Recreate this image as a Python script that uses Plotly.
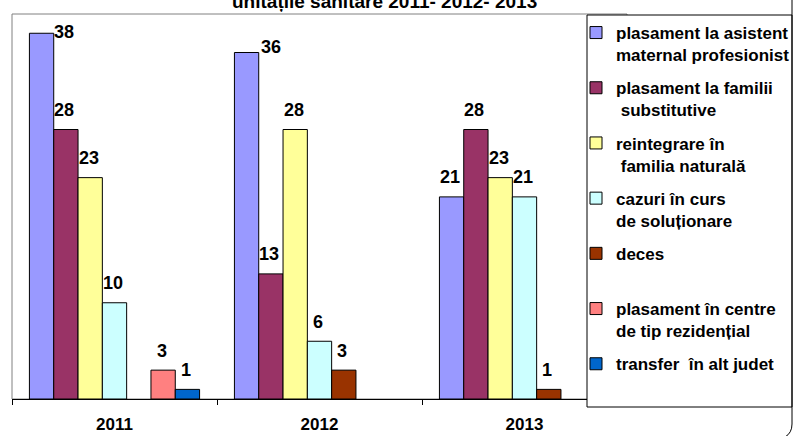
import plotly.graph_objects as go

# ---- data ----
years = ["2011", "2012", "2013"]
asistent = [38, 36, 21]
familii = [28, 13, 28]
reintegrare = [23, 28, 23]
cazuri = [10, 6, 21]
deces = [0, 3, 1]
centre = [3, 0, 0]
transfer = [1, 0, 0]

series_values = [asistent, familii, reintegrare, cazuri, deces, centre, transfer]
series_names = [
    "plasament la asistent<br>maternal profesionist",
    "plasament la familii<br> substitutive",
    "reintegrare în<br> familia naturală",
    "cazuri în curs<br>de soluționare",
    "deces<br> ",
    "plasament în centre<br>de tip rezidențial",
    "transfer  în alt judet",
]
colors = ["#9999FF", "#993366", "#FFFF99", "#CCFFFF", "#993300", "#FF8080", "#0066CC"]
title_text = "unitățile sanitare 2011- 2012- 2013"

# ---- layout constants ----
FONT = "Liberation Sans, Arial, sans-serif"
W, H = 794, 436
ML, MR, MT, MB = 12, 167, 14, 37
PW, PH = W - ML - MR, H - MT - MB
BARGAP = 0.17
n_series = len(series_values)
slot = (1 - BARGAP) / n_series

def px2x(px):
    return (px - ML) / PW

def py2y(py):
    return (H - MB - py) / PH

# manual label nudges (px) for a few labels placed beside the bar in the original
label_nudge = {(0, 0): (24, -18), (0, 1): (26, -14)}

fig = go.Figure()
for i, (vals, name, col) in enumerate(zip(series_values, series_names, colors)):
    fig.add_trace(go.Bar(
        x=years,
        y=[v if v else None for v in vals],
        name=name,
        legendgroup=f"g{i}",
        marker=dict(color=col, line=dict(color="black", width=1)),
        hoverinfo="skip",
    ))

annotations = []
for i, vals in enumerate(series_values):
    for gi, v in enumerate(vals):
        if not v:
            continue
        dx, dy = label_nudge.get((i, gi), (0, 0))
        annotations.append(dict(
            x=gi + (i - (n_series - 1) / 2) * slot, y=v, xref="x", yref="y",
            text=str(v), showarrow=False, yanchor="middle", xanchor="center",
            xshift=-1.5 + dx, yshift=19.5 + dy,
            font=dict(family=FONT, size=18, color="black", weight="bold"),
        ))

annotations.append(dict(
    x=px2x(385), y=py2y(2), xref="paper", yref="paper",
    text=title_text, showarrow=False, xanchor="center", yanchor="middle",
    font=dict(family=FONT, size=19, color="black", weight="bold"),
))

shapes = [
    # plot area frame
    dict(type="rect", xref="paper", yref="paper", x0=0, x1=1, y0=0, y1=1,
         line=dict(color="#808080", width=1), layer="below"),
    # legend box
    dict(type="rect", xref="paper", yref="paper",
         x0=px2x(587), x1=px2x(792), y0=py2y(407), y1=py2y(15),
         line=dict(color="black", width=1), fillcolor="white", layer="above"),
    # outer chart border with rounded corner
    dict(type="path", xref="paper", yref="paper",
         path=f"M {px2x(792)},{py2y(-2)} L {px2x(792)},{py2y(424)} "
              f"Q {px2x(792)},{py2y(433)} {px2x(785)},{py2y(437)}",
         line=dict(color="black", width=1), layer="above"),
]

fig.update_layout(
    width=W, height=H,
    margin=dict(l=ML, r=MR, t=MT, b=MB, autoexpand=False),
    paper_bgcolor="white", plot_bgcolor="white",
    barmode="group", bargap=BARGAP, bargroupgap=0,
    font=dict(family=FONT, color="black"),
    showlegend=True,
    legend=dict(
        xref="container", yref="container",
        x=576 / W, y=1 - 15 / H, xanchor="left", yanchor="top",
        font=dict(family=FONT, size=17, color="black", weight="bold"),
        valign="top", tracegroupgap=8, bgcolor="rgba(0,0,0,0)", borderwidth=0,
        itemwidth=30, maxheight=420,
    ),
    xaxis=dict(
        showline=True, linecolor="black", linewidth=1,
        ticks="outside", ticklen=5, tickcolor="black", tickson="boundaries",
        tickfont=dict(family=FONT, size=17, color="black", weight="bold"),
        showgrid=False, zeroline=False, ticklabelstandoff=10,
    ),
    yaxis=dict(range=[0, 40], showticklabels=False, showgrid=False,
               zeroline=False, ticks="", showline=False),
    annotations=annotations,
    shapes=shapes,
)

fig.write_html("out.html")
